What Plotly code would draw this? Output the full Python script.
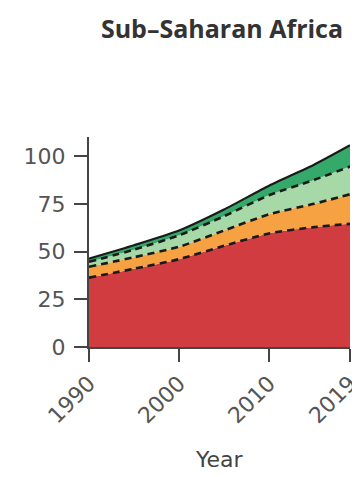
import plotly.graph_objects as go

years = [1990, 1995, 2000, 2005, 2010, 2015, 2019]
red_vals = [36.3, 41.0, 46.0, 53.0, 59.5, 62.8, 64.5]
orange_vals = [5.7, 6.0, 6.5, 8.0, 10.0, 12.2, 15.5]
lightgreen_vals = [2.6, 4.0, 6.0, 7.5, 10.0, 12.5, 14.5]
darkgreen_vals = [1.7, 2.3, 2.5, 3.5, 5.0, 8.0, 11.2]

x_ticks = [1990, 2000, 2010, 2019]
y_ticks = [0, 25, 50, 75, 100]

fig = go.Figure()
dash_line = dict(color="#1a1a1a", width=2.6, dash="7px,5px")
layers = [
    (red_vals, "#d13c40", dash_line),
    (orange_vals, "#f6a243", dash_line),
    (lightgreen_vals, "#a6d8a8", dash_line),
    (darkgreen_vals, "#35a96a", dict(color="#1a1a1a", width=2.2)),
]
for vals, col, line in layers:
    fig.add_trace(go.Scatter(
        x=years, y=vals, stackgroup="one", mode="lines",
        fillcolor=col, line=dict(shape="spline", smoothing=0.6, **line),
        hoverinfo="skip", showlegend=False,
    ))

# page body has an 8px margin: figure is 352x469 placed at (8, 8)
W, H = 352, 469
axis_col = "#444444"
tick_font = dict(family="DejaVu Sans", size=22, color="#555555")
fig.update_layout(
    width=W, height=H,
    margin=dict(l=81, r=10, t=129, b=130, autoexpand=False),
    plot_bgcolor="white", paper_bgcolor="white",
    font=dict(family="DejaVu Sans", color="#555555", size=20),
    title=dict(text="<b>Sub–Saharan Africa</b>", x=214 / W, xanchor="center", xref="container",
               y=1 - 21 / H, yanchor="middle", yref="container",
               font=dict(family="Open Sans", size=25, color="#333333")),
    xaxis=dict(range=[1990, 2019], tickvals=x_ticks, ticktext=[str(t) for t in x_ticks],
               tickangle=-45, showgrid=False, zeroline=False, automargin=False,
               ticklabeloverflow="allow",
               showline=True, linecolor=axis_col, linewidth=2,
               ticks="outside", ticklen=13, tickwidth=2, tickcolor=axis_col,
               tickfont=tick_font),
    yaxis=dict(range=[0, 110], tickvals=y_ticks, showgrid=False, zeroline=False, automargin=False,
               ticklabelstandoff=4,
               showline=True, linecolor=axis_col, linewidth=2,
               ticks="outside", ticklen=13, tickwidth=2, tickcolor=axis_col,
               tickfont=tick_font),
    annotations=[dict(text="Year", xref="paper", yref="paper", x=0.5, y=(347.3 - 460) / 210.0,
                      xanchor="center", yanchor="middle", showarrow=False,
                      font=dict(family="DejaVu Sans", size=22, color="#444444"))],
)

fig.write_html("out.html")
